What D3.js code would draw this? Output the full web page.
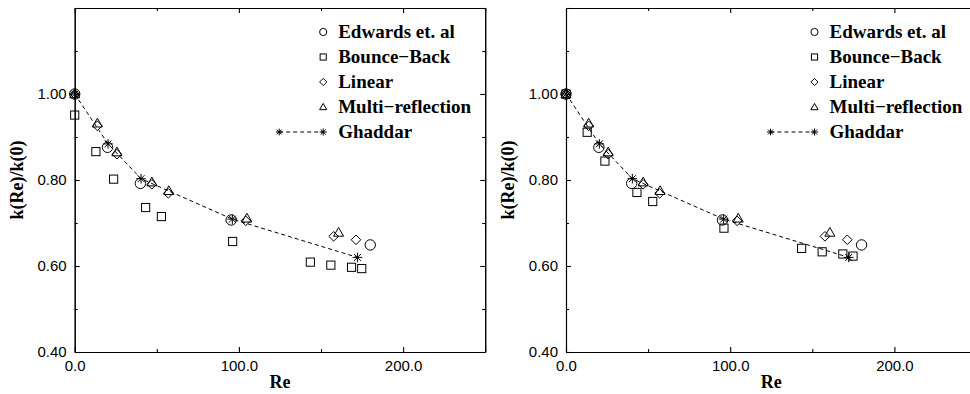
<!DOCTYPE html>
<html>
<head>
<meta charset="utf-8">
<script src="https://cdn.jsdelivr.net/npm/d3@7"></script>
<style>
  body { margin: 0; background: #fff; }
  svg { display: block; }
  .tick text { font-family: "Liberation Sans", Arial, sans-serif; font-size: 15px; fill: #000; }
  .title { font-family: "Liberation Serif", "Times New Roman", serif; font-weight: bold; fill: #000; }
</style>
</head>
<body>
<script>
// data
const edwardsRe = [0, 20, 40, 95.3, 180];
const edwardsK = [1.0, 0.876, 0.792, 0.707, 0.649];

const bounceRe = [0, 12.9, 23.7, 43.2, 52.8, 96.2, 143.5, 156, 168.6, 174.8];
const bounceLeftK = [0.951, 0.866, 0.802, 0.736, 0.715, 0.657, 0.609, 0.602, 0.597, 0.594];
const bounceRightK = [1.0, 0.911, 0.844, 0.771, 0.750, 0.688, 0.641, 0.633, 0.628, 0.623];

const linearRe = [0, 13.8, 25.7, 47, 57, 104.2, 157.7, 171.3];
const linearK = [1.0, 0.926, 0.860, 0.790, 0.769, 0.705, 0.669, 0.661];

const multiRe = [0, 13.8, 25.7, 47, 57.3, 104.9, 160.7];
const multiK = [1.0, 0.932, 0.865, 0.795, 0.775, 0.711, 0.678];

const ghaddarRe = [0, 20.3, 40.4, 96, 172.2];
const ghaddarK = [1.0, 0.884, 0.803, 0.709, 0.620];

const legendLabels = ["Edwards et. al", "Bounce\u2212Back", "Linear", "Multi\u2212reflection", "Ghaddar"];

const xMajor = [0, 100, 200];
const xMinor = [50, 150, 250];
const yMajor = [0.4, 0.6, 0.8, 1.0, 1.2];
const yMinor = [0.5, 0.7, 0.9, 1.1];

const W = 970, H = 394;
const plotW = 410.5, plotTop = 8, plotBottom = 352;

const svg = d3.select("body").append("svg")
  .attr("width", W)
  .attr("height", H);

const zip = (a, b) => a.map((v, i) => [v, b[i]]);

// marker shapes, drawn at 0,0
function marker(g, type, s) {
  if (type === "circle") {
    g.append("circle").attr("r", s);
  } else if (type === "square") {
    g.append("rect").attr("x", -s * 0.85).attr("y", -s * 0.85)
      .attr("width", s * 1.7).attr("height", s * 1.7);
  } else if (type === "diamond") {
    g.append("path").attr("d", `M0,${-s}L${s},0L0,${s}L${-s},0Z`);
  } else if (type === "triangle") {
    g.append("path").attr("d", `M0,${-s}L${s},${s * 0.75}L${-s},${s * 0.75}Z`);
  } else if (type === "star") {
    const d = s * 0.72;
    g.append("path")
      .attr("d", `M${-s},0L${s},0M0,${-s}L0,${s}M${-d},${-d}L${d},${d}M${-d},${d}L${d},${-d}`);
  }
  g.selectAll("*").attr("fill", "none").attr("stroke", "#000").attr("stroke-width", 1);
}

function drawPanel(x0, bounceK) {
  const x = d3.scaleLinear().domain([0, 250]).range([x0, x0 + plotW]);
  const y = d3.scaleLinear().domain([0.4, 1.2]).range([plotBottom, plotTop]);

  const g = svg.append("g");

  // axes, all ticks pointing inward
  const fmtX = d => d3.format(".1f")(d);
  const fmtY = d => d >= 1.15 ? "" : d3.format(".2f")(d);

  g.append("g").attr("transform", `translate(0,${plotBottom})`)
    .call(d3.axisBottom(x).tickValues(xMajor).tickFormat(fmtX).tickSizeInner(-5).tickSizeOuter(0).tickPadding(8));
  g.append("g").attr("transform", `translate(0,${plotBottom})`)
    .call(d3.axisBottom(x).tickValues(xMinor).tickFormat("").tickSizeInner(-3).tickSizeOuter(0));
  g.append("g").attr("transform", `translate(0,${plotTop})`)
    .call(d3.axisTop(x).tickValues(xMajor).tickFormat("").tickSizeInner(-5).tickSizeOuter(0));
  g.append("g").attr("transform", `translate(0,${plotTop})`)
    .call(d3.axisTop(x).tickValues(xMinor).tickFormat("").tickSizeInner(-3).tickSizeOuter(0));

  g.append("g").attr("transform", `translate(${x0},0)`)
    .call(d3.axisLeft(y).tickValues(yMajor).tickFormat(fmtY).tickSizeInner(-5).tickSizeOuter(0).tickPadding(8));
  g.append("g").attr("transform", `translate(${x0},0)`)
    .call(d3.axisLeft(y).tickValues(yMinor).tickFormat("").tickSizeInner(-3).tickSizeOuter(0));
  g.append("g").attr("transform", `translate(${x0 + plotW},0)`)
    .call(d3.axisRight(y).tickValues(yMajor).tickFormat("").tickSizeInner(-5).tickSizeOuter(0));
  g.append("g").attr("transform", `translate(${x0 + plotW},0)`)
    .call(d3.axisRight(y).tickValues(yMinor).tickFormat("").tickSizeInner(-3).tickSizeOuter(0));

  g.selectAll(".domain, .tick line").attr("stroke", "#000").attr("stroke-width", 1.1);

  // titles
  g.append("text").attr("class", "title")
    .attr("x", x0 + plotW / 2).attr("y", 388)
    .attr("text-anchor", "middle").style("font-size", "18px")
    .text("Re");
  g.append("text").attr("class", "title")
    .attr("transform", `translate(${x0 - 52},${(plotTop + plotBottom) / 2}) rotate(-90)`)
    .attr("text-anchor", "middle").style("font-size", "18px")
    .text("k(Re)/k(0)");

  // Ghaddar dashed curve
  g.append("path")
    .datum(zip(ghaddarRe, ghaddarK))
    .attr("fill", "none").attr("stroke", "#000").attr("stroke-width", 1)
    .attr("stroke-dasharray", "4,3")
    .attr("d", d3.line().x(d => x(d[0])).y(d => y(d[1])));

  const series = [
    { type: "circle", s: 5.2, pts: zip(edwardsRe, edwardsK) },
    { type: "square", s: 4.8, pts: zip(bounceRe, bounceK) },
    { type: "diamond", s: 4.8, pts: zip(linearRe, linearK) },
    { type: "triangle", s: 5, pts: zip(multiRe, multiK) },
    { type: "star", s: 4.8, pts: zip(ghaddarRe, ghaddarK) }
  ];

  series.forEach(sr => {
    g.selectAll(null).data(sr.pts).enter().append("g")
      .attr("transform", d => `translate(${x(d[0])},${y(d[1])})`)
      .each(function () { marker(d3.select(this), sr.type, sr.s); });
  });

  // legend
  const legX = x0 + 248.5, legY = 32, legStep = 25;
  const types = ["circle", "square", "diamond", "triangle", "star"];
  legendLabels.forEach((lab, i) => {
    const ly = legY + i * legStep;
    if (types[i] === "star") {
      g.append("line").attr("x1", legX - 44).attr("x2", legX).attr("y1", ly).attr("y2", ly)
        .attr("stroke", "#000").attr("stroke-width", 1).attr("stroke-dasharray", "4,3");
      marker(g.append("g").attr("transform", `translate(${legX - 44},${ly})`), "star", 3.4);
    }
    marker(g.append("g").attr("transform", `translate(${legX},${ly})`), types[i], 3.6);
    g.append("text").attr("class", "title")
      .attr("x", legX + 15).attr("y", ly + 6)
      .style("font-size", "19px")
      .text(lab);
  });
}

drawPanel(74.7, bounceLeftK);
drawPanel(566, bounceRightK);
</script>
</body>
</html>
